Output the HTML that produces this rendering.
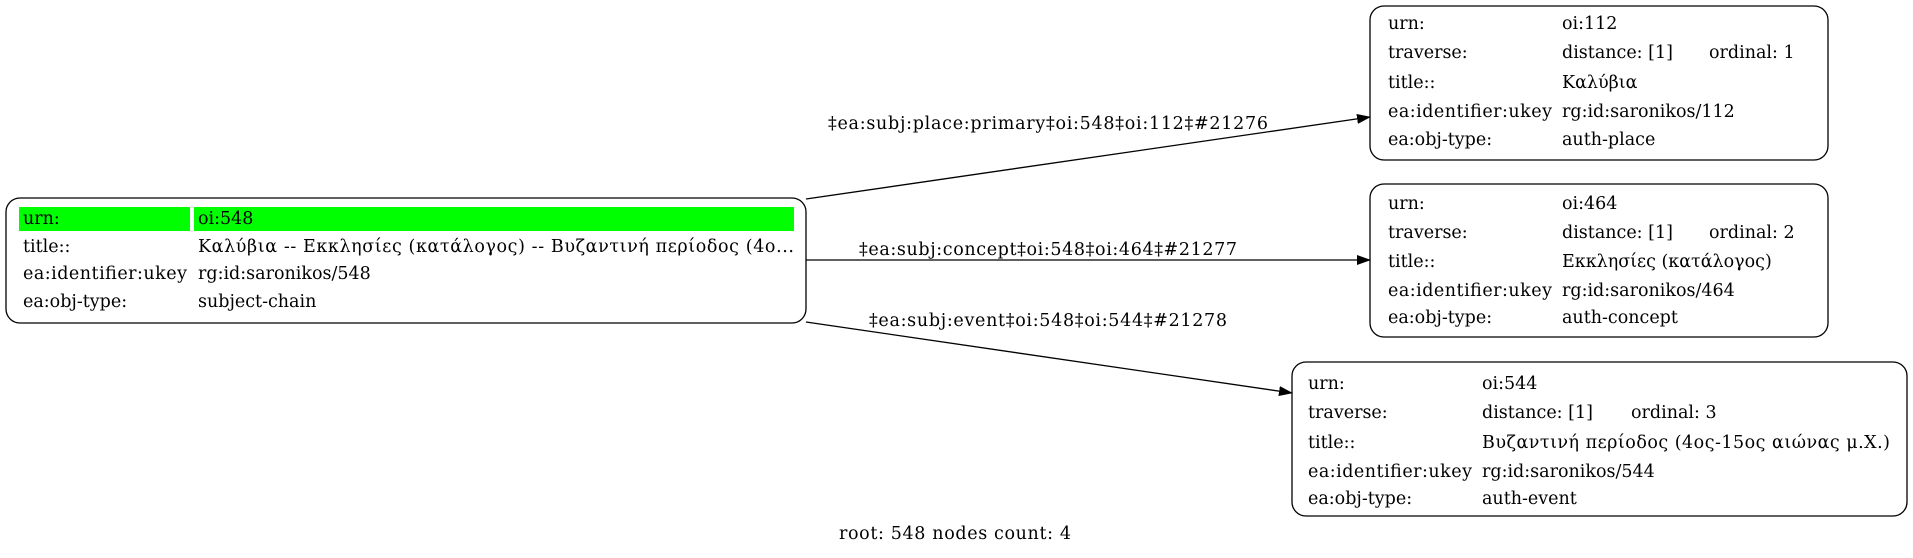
<!DOCTYPE html>
<html><head><meta charset="utf-8"><style>
body{margin:0;background:#fff;}
svg text{font-family:"DejaVu Serif","Liberation Serif",serif;font-size:17.5px;fill:#000;}
</style></head><body>
<svg width="1913" height="553" viewBox="0 0 1913 553" xmlns="http://www.w3.org/2000/svg">
<defs><marker id="a" markerWidth="14" markerHeight="10" refX="13" refY="5" orient="auto" markerUnits="userSpaceOnUse"><path d="M0,0 L14,5 L0,10 z" fill="#000"/></marker></defs>
<g fill="none" stroke="#000" stroke-width="1.3">
<line x1="806" y1="199" x2="1370" y2="117" marker-end="url(#a)"/>
<line x1="806" y1="260" x2="1370" y2="260" marker-end="url(#a)"/>
<line x1="806" y1="322" x2="1292" y2="393" marker-end="url(#a)"/>
<rect x="6" y="198" width="800" height="125" rx="14"/>
<rect x="1370" y="6" width="458" height="154" rx="14"/>
<rect x="1370" y="184" width="458" height="153" rx="14"/>
<rect x="1292" y="362" width="615" height="154" rx="14"/>
</g>
<rect x="19" y="207" width="171" height="24" fill="#00ff00"/>
<rect x="194" y="207" width="600" height="24" fill="#00ff00"/>
<text x="1048" y="129" text-anchor="middle" textLength="440">‡ea:subj:place:primary‡oi:548‡oi:112‡#21276</text>
<text x="1048" y="255" text-anchor="middle" textLength="378">‡ea:subj:concept‡oi:548‡oi:464‡#21277</text>
<text x="1048" y="326" text-anchor="middle" textLength="358">‡ea:subj:event‡oi:548‡oi:544‡#21278</text>
<text x="955" y="539" text-anchor="middle" textLength="232">root: 548 nodes count: 4</text>
<g>
<text x="23" y="224">urn:</text><text x="198" y="224">oi:548</text>
<text x="23" y="252">title::</text><text x="198" y="252" textLength="596">Καλύβια -- Εκκλησίες (κατάλογος) -- Βυζαντινή περίοδος (4ο...</text>
<text x="23" y="279" textLength="164">ea:identifier:ukey</text><text x="198" y="279">rg:id:saronikos/548</text>
<text x="23" y="307">ea:obj-type:</text><text x="198" y="307">subject-chain</text>
</g>
<g>
<text x="1388" y="29">urn:</text><text x="1562" y="29">oi:112</text>
<text x="1388" y="58">traverse:</text><text x="1562" y="58">distance: [1]</text><text x="1709" y="58">ordinal: 1</text>
<text x="1388" y="88">title::</text><text x="1562" y="88">Καλύβια</text>
<text x="1388" y="117" textLength="164">ea:identifier:ukey</text><text x="1562" y="117">rg:id:saronikos/112</text>
<text x="1388" y="145">ea:obj-type:</text><text x="1562" y="145">auth-place</text>
</g>
<g>
<text x="1388" y="209">urn:</text><text x="1562" y="209">oi:464</text>
<text x="1388" y="238">traverse:</text><text x="1562" y="238">distance: [1]</text><text x="1709" y="238">ordinal: 2</text>
<text x="1388" y="267">title::</text><text x="1562" y="267">Εκκλησίες (κατάλογος)</text>
<text x="1388" y="296" textLength="164">ea:identifier:ukey</text><text x="1562" y="296">rg:id:saronikos/464</text>
<text x="1388" y="323">ea:obj-type:</text><text x="1562" y="323">auth-concept</text>
</g>
<g>
<text x="1308" y="389">urn:</text><text x="1482" y="389">oi:544</text>
<text x="1308" y="418">traverse:</text><text x="1482" y="418">distance: [1]</text><text x="1631" y="418">ordinal: 3</text>
<text x="1308" y="448">title::</text><text x="1482" y="448" textLength="408">Βυζαντινή περίοδος (4ος-15ος αιώνας μ.Χ.)</text>
<text x="1308" y="477" textLength="164">ea:identifier:ukey</text><text x="1482" y="477">rg:id:saronikos/544</text>
<text x="1308" y="504">ea:obj-type:</text><text x="1482" y="504">auth-event</text>
</g>
</svg>
</body></html>
